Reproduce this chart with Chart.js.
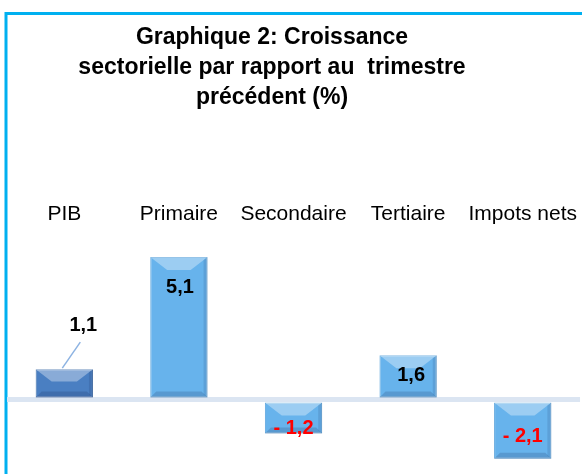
<!DOCTYPE html>
<html lang="fr">
<head>
<meta charset="UTF-8">
<title>Croissance sectorielle</title>
<script src="https://cdn.jsdelivr.net/npm/chart.js@4.4.1/dist/chart.umd.min.js"></script>
<style>
    html, body { margin: 0; padding: 0; background: #fff; overflow: hidden; }
    #zone { position: relative; width: 582px; height: 474px; overflow: hidden; }
    /* canvas decale a gauche pour que le titre soit centre comme dans l'original */
    #graphique { position: absolute; left: -38px; top: 0; }
</style>
</head>
<body>
<div id="zone">
    <canvas id="graphique" width="620" height="474"></canvas>
</div>
<script>
    // Donnees du graphique
    const secteurs = ['PIB', 'Primaire', 'Secondaire', 'Tertiaire', 'Impots nets'];
    const croissance = [1.1, 5.1, -1.2, 1.6, -2.1];
    const titre = ['Graphique 2: Croissance', 'sectorielle par rapport au  trimestre', 'précédent (%)'];

    const DECALAGE = 38;

    // position des etiquettes par rapport au bout de chaque barre
    const decalageEtiquettes = [[19, -44], [1, 30], [0, -5], [3, 20], [0, -22]];

    function formatValeur(v) {
        const txt = Math.abs(v).toFixed(1).replace('.', ',');
        return v < 0 ? '- ' + txt : txt;
    }

    // cadre bleu autour du graphique
    const cadre = {
        id: 'cadre',
        beforeDraw(chart) {
            const ctx = chart.ctx;
            ctx.save();
            ctx.fillStyle = '#fff';
            ctx.fillRect(0, 0, chart.width, chart.height);
            ctx.strokeStyle = '#00b0f0';
            ctx.lineWidth = 3;
            ctx.strokeRect(DECALAGE + 6, 13.5, chart.width + 20, chart.height + 20);
            ctx.restore();
        }
    };

    // effet de biseau sur les barres
    const biseau = {
        id: 'biseau',
        afterDatasetsDraw(chart) {
            const ctx = chart.ctx;
            const meta = chart.getDatasetMeta(0);
            meta.data.forEach(bar => {
                const l = bar.x - bar.width / 2, r = bar.x + bar.width / 2;
                const t = Math.min(bar.y, bar.base), b = Math.max(bar.y, bar.base);
                const h = b - t;
                const d = Math.min(13, h / 2.3);
                const ins = d * 1.3;
                ctx.save();
                // face du haut, plus claire
                ctx.fillStyle = 'rgba(255,255,255,0.35)';
                ctx.beginPath();
                ctx.moveTo(l, t); ctx.lineTo(r, t); ctx.lineTo(r - ins, t + d); ctx.lineTo(l + ins, t + d);
                ctx.closePath(); ctx.fill();
                // face de droite
                ctx.fillStyle = 'rgba(0,0,40,0.10)';
                ctx.beginPath();
                ctx.moveTo(r, t); ctx.lineTo(r, b); ctx.lineTo(r - 4, b - 3); ctx.lineTo(r - 4, t + 3);
                ctx.closePath(); ctx.fill();
                // face du bas, plus foncee
                ctx.fillStyle = 'rgba(0,0,40,0.14)';
                ctx.beginPath();
                ctx.moveTo(l, b); ctx.lineTo(r, b); ctx.lineTo(r - 6, b - 6); ctx.lineTo(l + 6, b - 6);
                ctx.closePath(); ctx.fill();
                ctx.restore();
            });
        }
    };

    // etiquettes de valeurs
    const etiquettes = {
        id: 'etiquettes',
        afterDatasetsDraw(chart) {
            const ctx = chart.ctx;
            const meta = chart.getDatasetMeta(0);
            ctx.save();
            ctx.font = 'bold 20px "Liberation Sans", Arial, sans-serif';
            ctx.textAlign = 'center';
            ctx.textBaseline = 'middle';
            meta.data.forEach((bar, i) => {
                const v = croissance[i];
                const [dx, dy] = decalageEtiquettes[i];
                const x = bar.x + dx, y = bar.y + dy;
                if (i === 0) {
                    // trait de rappel
                    ctx.strokeStyle = '#8db3e2';
                    ctx.lineWidth = 1.5;
                    ctx.beginPath();
                    ctx.moveTo(x - 3, y + 17);
                    ctx.lineTo(bar.x - 2, bar.y - 1);
                    ctx.stroke();
                }
                ctx.fillStyle = v < 0 ? '#ff0000' : '#000000';
                ctx.fillText(formatValeur(v), x, y);
            });
            ctx.restore();
        }
    };

    const ctx = document.getElementById('graphique').getContext('2d');
    new Chart(ctx, {
        type: 'bar',
        data: {
            labels: secteurs,
            datasets: [{
                data: croissance,
                backgroundColor: ['#4a7fc2', '#67b3ec', '#67b3ec', '#67b3ec', '#67b3ec'],
                borderColor: ['#4673ad', '#5ea5dc', '#5ea5dc', '#5ea5dc', '#5ea5dc'],
                borderWidth: 1,
                borderSkipped: false,
                barPercentage: 0.5,
                categoryPercentage: 1.0
            }]
        },
        options: {
            responsive: false,
            animation: false,
            layout: { padding: { top: 0, left: 0, right: 0, bottom: 4 } },
            plugins: {
                legend: { display: false },
                tooltip: { enabled: false },
                title: {
                    display: true,
                    text: titre,
                    color: '#000',
                    font: { family: '"Liberation Sans", Arial, sans-serif', size: 23, weight: 'bold', lineHeight: 1.3 },
                    padding: { top: 23, bottom: 84 }
                }
            },
            scales: {
                x: {
                    position: 'top',
                    grid: { display: false, drawTicks: false },
                    border: { display: false },
                    ticks: {
                        color: '#000',
                        padding: 5,
                        autoSkip: false,
                        maxRotation: 0,
                        font: { family: '"Liberation Sans", Arial, sans-serif', size: 21 }
                    }
                },
                y: {
                    min: -2.5,
                    max: 6,
                    afterFit(scale) { scale.width = 45; },
                    ticks: { display: false, stepSize: 0.5 },
                    border: { display: false },
                    grid: {
                        drawTicks: false,
                        lineWidth: 5,
                        color: c => (c.tick && c.tick.value === 0) ? '#dbe5f2' : 'rgba(0,0,0,0)'
                    }
                }
            }
        },
        plugins: [cadre, biseau, etiquettes]
    });
</script>
</body>
</html>
